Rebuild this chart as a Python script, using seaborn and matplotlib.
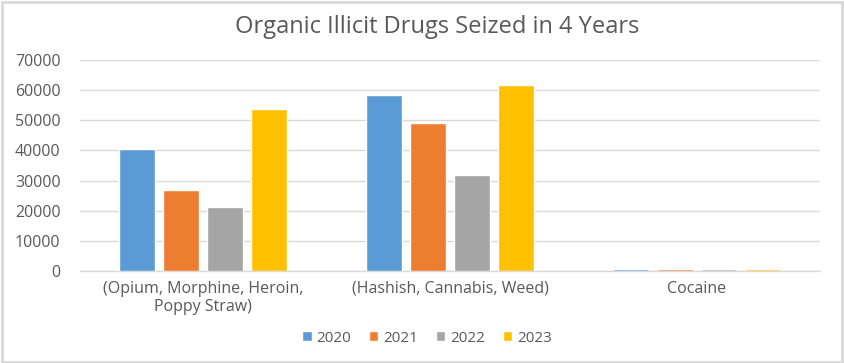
import matplotlib
matplotlib.use("Agg")
import matplotlib.pyplot as plt
import seaborn as sns
import pandas as pd
from matplotlib.patches import Rectangle

categories = ["(Opium, Morphine, Heroin,\nPoppy Straw)", "(Hashish, Cannabis, Weed)", "Cocaine"]
years = ["2020", "2021", "2022", "2023"]
v2020 = [40600, 58300, 600]
v2021 = [26800, 49100, 600]
v2022 = [21100, 31800, 600]
v2023 = [53900, 61800, 600]
yticks = [0, 10000, 20000, 30000, 40000, 50000, 60000, 70000]
colors = ["#5B9BD5", "#ED7D31", "#A5A5A5", "#FFC000"]

rows = []
for y, vals in zip(years, [v2020, v2021, v2022, v2023]):
    for c, v in zip(categories, vals):
        rows.append({"category": c, "year": y, "value": v})
df = pd.DataFrame(rows)

sns.set_theme(style="white")
plt.rcParams["font.family"] = ["Open Sans", "DejaVu Sans"]
txt = "#595959"

fig = plt.figure(figsize=(8.45, 3.63), dpi=100)
ax = fig.add_axes([80/845, 1-271/363, 740/845, 211/363])

sns.barplot(data=df, x="category", y="value", hue="year", order=categories,
            hue_order=years, palette=colors, width=0.713, gap=0.18,
            saturation=1, ax=ax, legend=True, zorder=3)

ax.set_ylim(0, 70000)
ax.set_xlim(-0.5, 2.5)
ax.set_yticks(yticks)
ax.set_yticklabels([str(t) for t in yticks], color=txt, fontsize=11.5)
ax.tick_params(axis="y", length=0, pad=14)
ax.tick_params(axis="x", length=0, pad=7, labelcolor=txt, labelsize=11.5)
for lab in ax.get_xticklabels():
    lab.set_linespacing(1.15)
ax.set_xlabel("")
ax.set_ylabel("")
ax.yaxis.grid(True, color="#D9D9D9", linewidth=1)
ax.set_axisbelow(True)
for s in ["left", "right", "top"]:
    ax.spines[s].set_visible(False)
ax.spines["bottom"].set_color("#D9D9D9")
ax.spines["bottom"].set_linewidth(1)
ax.spines["bottom"].set_zorder(2)

handles, labels = ax.get_legend_handles_labels()
ax.get_legend().remove()
fig.legend(handles, labels, loc="center", bbox_to_anchor=(427/845, 1-338/363),
           ncol=4, frameon=False, fontsize=11, labelcolor=txt,
           handlelength=0.6, handleheight=0.6, handletextpad=0.3, columnspacing=1.2)

fig.text(437/845, 1-27/363, "Organic Illicit Drugs Seized in 4 Years",
         ha="center", va="center", fontsize=17, color=txt)

fig.patches.append(Rectangle((0.002, 0.004), 0.994, 0.99, transform=fig.transFigure,
                             fill=False, edgecolor="#D9D9D9", linewidth=2))

fig.savefig("out.png", dpi=100)
